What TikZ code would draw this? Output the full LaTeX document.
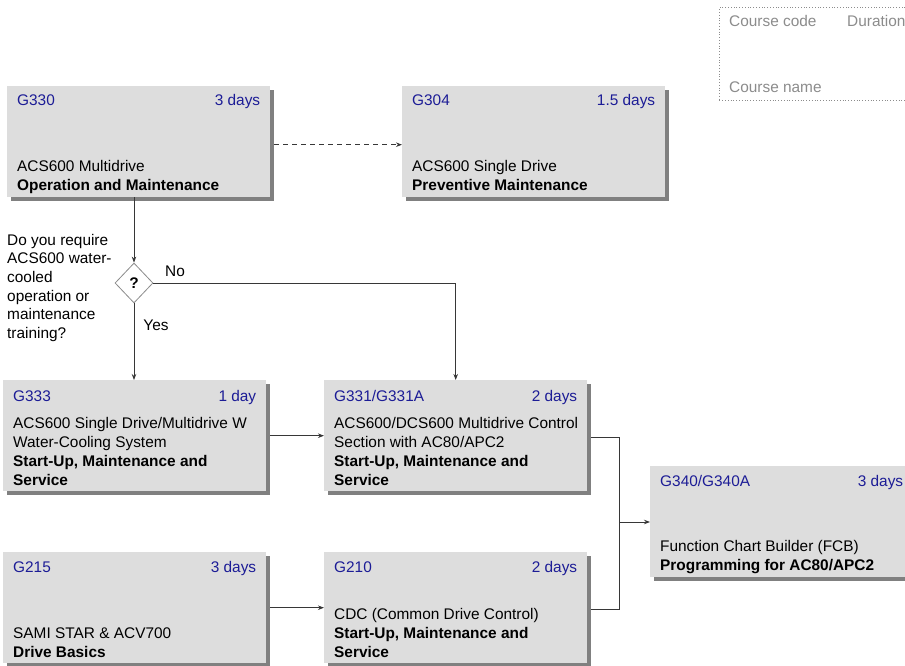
\documentclass[tikz,border=0pt]{standalone}
\usepackage{fontspec}
\setmainfont{Liberation Sans}
\usetikzlibrary{shadows,shapes.geometric,arrows.meta}
\definecolor{boxgray}{RGB}{221,221,221}
\definecolor{shadowgray}{RGB}{128,128,128}
\definecolor{codeblue}{RGB}{28,28,150}
\definecolor{legendgray}{RGB}{140,140,140}
\definecolor{linegray}{RGB}{55,55,55}
\definecolor{diamgray}{RGB}{140,140,140}
\begin{document}
\begin{tikzpicture}[x=1pt,y=-1pt,
  txt/.style={inner sep=0pt, font=\fontsize{15.4}{18.7}\selectfont},
  course/.style={rectangle, fill=boxgray, minimum width=263pt, minimum height=111pt,
    anchor=north west, inner sep=0pt,
    general shadow={fill=shadowgray, shadow xshift=4pt, shadow yshift=-4pt}},
  hdr/.style={txt, text=codeblue},
  body/.style={txt, align=left, anchor=base west},
  legtxt/.style={txt, text=legendgray, anchor=base west},
  conn/.style={draw=linegray, line width=0.9pt, -{Stealth[length=6pt,width=4.5pt]}},
  plain/.style={draw=linegray, line width=0.9pt}
]
\clip (0,0) rectangle (905,666);
\fill[white] (0,0) rectangle (905,666);

% legend
\node[draw=legendgray, dotted, line width=0.8pt, minimum width=192pt, minimum height=93pt, anchor=north west, inner sep=0pt] (legend) at (719,7) {};
\node[legtxt] (legcode) at (729,26.5) {Course code};
\node[legtxt] (legdur) at (847,26.5) {Duration};
\node[legtxt] (legname) at (729,92.5) {Course name};

% boxes (body nodes are anchored at the baseline of their last line)
\node[course] (g330) at (7,86) {};
\node[hdr, anchor=base west] (g330c) at ([xshift=10pt,yshift=-20pt]g330.north west) {G330};
\node[hdr, anchor=base east] (g330d) at ([xshift=-10pt,yshift=-20pt]g330.north east) {3 days};
\node[body] (g330n) at ([xshift=10pt,yshift=-104pt]g330.north west) {ACS600 Multidrive\\\textbf{Operation and Maintenance}};

\node[course] (g304) at (402,86) {};
\node[hdr, anchor=base west] (g304c) at ([xshift=10pt,yshift=-20pt]g304.north west) {G304};
\node[hdr, anchor=base east] (g304d) at ([xshift=-10pt,yshift=-20pt]g304.north east) {1.5 days};
\node[body] (g304n) at ([xshift=10pt,yshift=-104pt]g304.north west) {ACS600 Single Drive\\\textbf{Preventive Maintenance}};

\node[course] (g333) at (3,380) {};
\node[hdr, anchor=base west] (g333c) at ([xshift=10pt,yshift=-21pt]g333.north west) {G333};
\node[hdr, anchor=base east] (g333d) at ([xshift=-10pt,yshift=-21pt]g333.north east) {1 day};
\node[body] (g333n) at ([xshift=10pt,yshift=-105pt]g333.north west) {ACS600 Single Drive/Multidrive W\\Water-Cooling System\\\textbf{Start-Up, Maintenance and}\\\textbf{Service}};

\node[course] (g331) at (324,380) {};
\node[hdr, anchor=base west] (g331c) at ([xshift=10pt,yshift=-21pt]g331.north west) {G331/G331A};
\node[hdr, anchor=base east] (g331d) at ([xshift=-10pt,yshift=-21pt]g331.north east) {2 days};
\node[body] (g331n) at ([xshift=10pt,yshift=-105pt]g331.north west) {ACS600/DCS600 Multidrive Control\\Section with AC80/APC2\\\textbf{Start-Up, Maintenance and}\\\textbf{Service}};

\node[course] (g340) at (650,466) {};
\node[hdr, anchor=base west] (g340c) at ([xshift=10pt,yshift=-20pt]g340.north west) {G340/G340A};
\node[hdr, anchor=base east] (g340d) at ([xshift=-10pt,yshift=-20pt]g340.north east) {3 days};
\node[body] (g340n) at ([xshift=10pt,yshift=-104pt]g340.north west) {Function Chart Builder (FCB)\\\textbf{Programming for AC80/APC2}};

\node[course] (g215) at (3,552) {};
\node[hdr, anchor=base west] (g215c) at ([xshift=10pt,yshift=-20pt]g215.north west) {G215};
\node[hdr, anchor=base east] (g215d) at ([xshift=-10pt,yshift=-20pt]g215.north east) {3 days};
\node[body] (g215n) at ([xshift=10pt,yshift=-105pt]g215.north west) {SAMI STAR \& ACV700\\\textbf{Drive Basics}};

\node[course] (g210) at (324,552) {};
\node[hdr, anchor=base west] (g210c) at ([xshift=10pt,yshift=-20pt]g210.north west) {G210};
\node[hdr, anchor=base east] (g210d) at ([xshift=-10pt,yshift=-20pt]g210.north east) {2 days};
\node[body] (g210n) at ([xshift=10pt,yshift=-105pt]g210.north west) {CDC (Common Drive Control)\\\textbf{Start-Up, Maintenance and}\\\textbf{Service}};

% decision
\node[body] (qtext) at (7,338.5) {Do you require\\ACS600 water-\\cooled\\operation or\\maintenance\\training?};
\node[diamond, draw=diamgray, fill=white, line width=0.8pt, minimum width=38pt, minimum height=40pt, inner sep=0pt, font=\fontsize{15.4}{18.7}\selectfont\bfseries] (q) at (134,283) {?};
\node[txt] (no) at (175,271) {No};
\node[txt] (yes) at (156,325) {Yes};

% connectors
\draw[conn, dashed, dash pattern=on 5pt off 4pt] ([xshift=4pt,yshift=-3pt]g330.east) -- ([yshift=-3pt]g304.west);
\draw[conn] (q.north |- g330.south) -- (q.north);
\draw[conn] (q.south) -- (q.south |- g333.north);
\draw[conn] (q.east) -| (g331.north);
\draw[conn] ([xshift=4pt]g333.east) -- (g331.west);
\draw[conn] ([xshift=4pt]g215.east) -- (g210.west);
\coordinate (j) at (619,522);
\draw[plain] ([xshift=4pt,yshift=-2pt]g331.east) -| (j);
\draw[plain] ([xshift=4pt,yshift=-2pt]g210.east) -| (j);
\draw[conn] (j) -- (j -| g340.west);
\end{tikzpicture}
\end{document}
